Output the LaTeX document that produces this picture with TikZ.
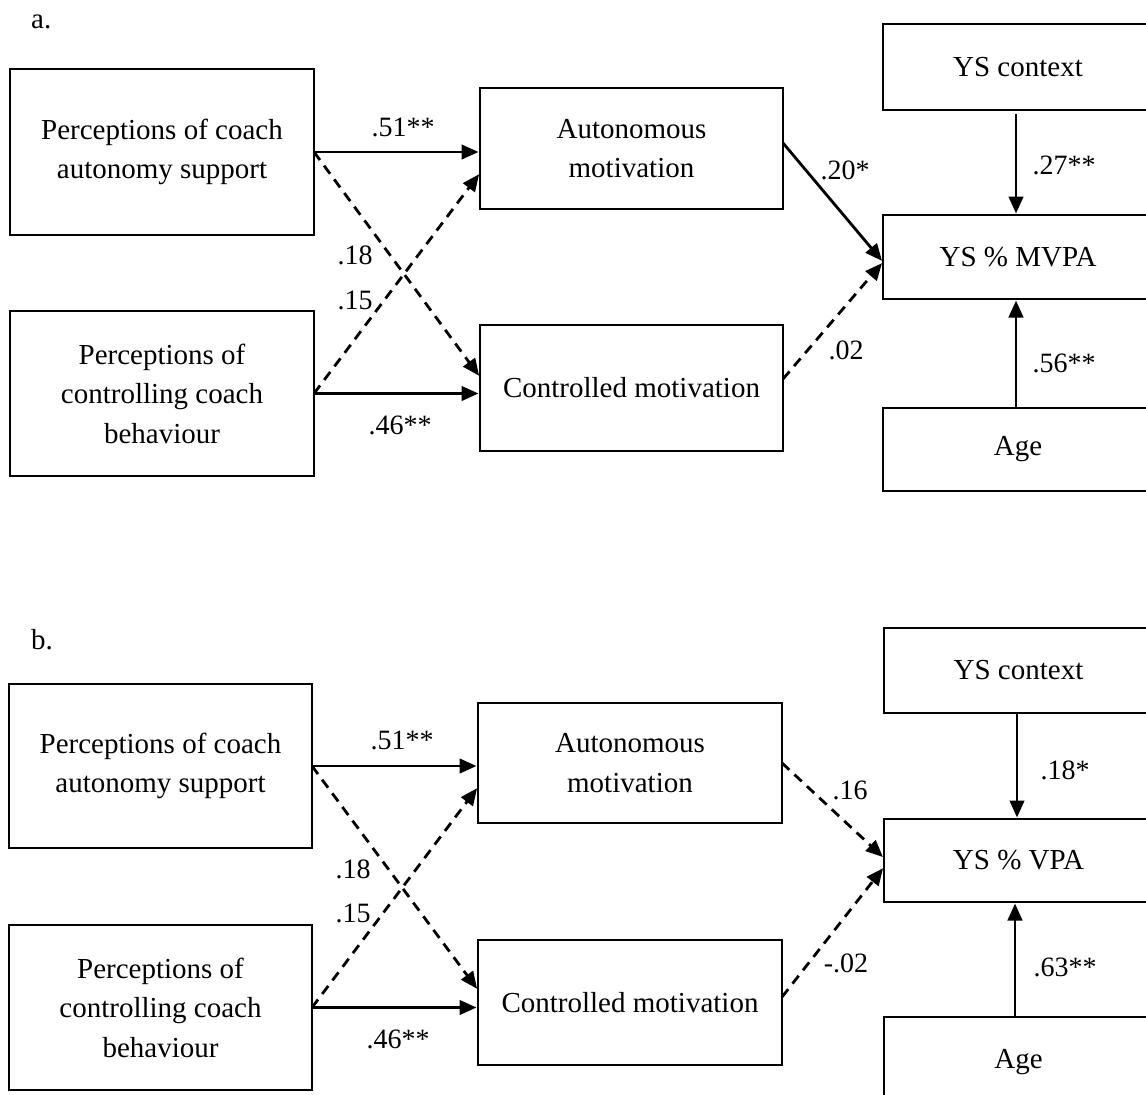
\documentclass[tikz,border=0pt]{standalone}
\usepackage{fontspec}
\setmainfont{Liberation Serif}
\usetikzlibrary{arrows.meta}
\tikzset{
  box/.style={draw, line width=2.5pt, inner sep=0pt, outer sep=0pt, align=center,
    font=\fontsize{29}{39.5}\selectfont},
  lab/.style={inner sep=0pt, font=\fontsize{28}{30}\selectfont},
  arr/.style={line width=2.8pt, -{Triangle[length=17pt,width=14.5pt]}, shorten >=1.5pt},
  darr/.style={arr, dash pattern=on 10pt off 7pt},
}
\begin{document}
\begin{tikzpicture}[x=1pt,y=-1pt]
\useasboundingbox (0,0) rectangle (1146,1095);
\clip (0,0) rectangle (1146,1095);

% ---------- panel a ----------
\node[lab, anchor=base west, font=\fontsize{29}{30}\selectfont] (tagA) at (31,28) {a.};
\node[box, minimum width=304pt, minimum height=166pt] (A1) at (162,152) {Perceptions of coach\\autonomy support};
\node[box, minimum width=304pt, minimum height=165pt] (A2) at (162,393.5) {Perceptions of\\controlling coach\\behaviour};
\node[box, minimum width=303pt, minimum height=121pt] (Aaut) at (631.5,148.5) {Autonomous\\motivation};
\node[box, minimum width=303pt, minimum height=126pt] (Actl) at (631.5,388) {Controlled motivation};
\node[box, minimum width=270pt, minimum height=86pt] (Actx) at (1018,67) {YS context};
\node[box, minimum width=270pt, minimum height=84pt] (Aout) at (1018,257) {YS \% MVPA};
\node[box, minimum width=270pt, minimum height=83pt] (Aage) at (1018,449.5) {Age};

\draw[arr] (A1.east) -- (Aaut.west |- A1.east);
\draw[darr] (A1.east) -- ([yshift=11pt]Actl.west);
\draw[darr] (A2.east) -- ([yshift=-24.5pt]Aaut.west);
\draw[arr] (A2.east) -- (Actl.west |- A2.east);
\draw[arr] ([yshift=5.5pt]Aaut.east) -- ([yshift=-5pt]Aout.west);
\draw[darr] ([yshift=9pt]Actl.east) -- ([yshift=-5pt]Aout.west);
\draw[arr, shorten <=4pt] ([xshift=-2pt]Actx.south) -- ([xshift=-2pt]Aout.north);
\draw[arr] ([xshift=-2pt]Aage.north) -- ([xshift=-2pt]Aout.south);

\node[lab] (a51) at (403,127) {.51**};
\node[lab] (a18) at (355,255) {.18};
\node[lab] (a15) at (355,300) {.15};
\node[lab] (a46) at (400,425) {.46**};
\node[lab] (a20) at (845,170) {.20*};
\node[lab] (a02) at (846,350) {.02};
\node[lab] (a27) at (1064,165) {.27**};
\node[lab] (a56) at (1064,363) {.56**};

% ---------- panel b ----------
\node[lab, anchor=base west, font=\fontsize{29}{30}\selectfont] (tagB) at (31,649) {b.};
\node[box, minimum width=303pt, minimum height=164pt] (B1) at (160.5,766) {Perceptions of coach\\autonomy support};
\node[box, minimum width=303pt, minimum height=165pt] (B2) at (160.5,1007.5) {Perceptions of\\controlling coach\\behaviour};
\node[box, minimum width=304pt, minimum height=120pt] (Baut) at (630,763) {Autonomous\\motivation};
\node[box, minimum width=304pt, minimum height=125pt] (Bctl) at (630,1002.5) {Controlled motivation};
\node[box, minimum width=269pt, minimum height=85pt] (Bctx) at (1018.5,670.5) {YS context};
\node[box, minimum width=269pt, minimum height=83pt] (Bout) at (1018.5,860.5) {YS \% VPA};
\node[box, minimum width=269pt, minimum height=90pt] (Bage) at (1018.5,1062) {Age};

\draw[arr] (B1.east) -- (Baut.west |- B1.east);
\draw[darr] (B1.east) -- ([yshift=12.5pt]Bctl.west);
\draw[darr] (B2.east) -- ([yshift=-24pt]Baut.west);
\draw[arr] (B2.east) -- (Bctl.west |- B2.east);
\draw[darr] (Baut.east) -- ([yshift=2.5pt]Bout.west);
\draw[darr] ([yshift=5.5pt]Bctl.east) -- ([yshift=-6.5pt]Bout.west);
\draw[arr] ([xshift=-1.5pt]Bctx.south) -- ([xshift=-1.5pt]Bout.north);
\draw[arr] ([xshift=-3.5pt]Bage.north) -- ([xshift=-3.5pt]Bout.south);

\node[lab] (b51) at (402,740) {.51**};
\node[lab] (b18) at (353,869) {.18};
\node[lab] (b15) at (353,913) {.15};
\node[lab] (b46) at (398,1039) {.46**};
\node[lab] (b16) at (850,790) {.16};
\node[lab] (b02) at (846,963) {-.02};
\node[lab] (b18s) at (1065,770) {.18*};
\node[lab] (b63) at (1065,967) {.63**};
\end{tikzpicture}
\end{document}
